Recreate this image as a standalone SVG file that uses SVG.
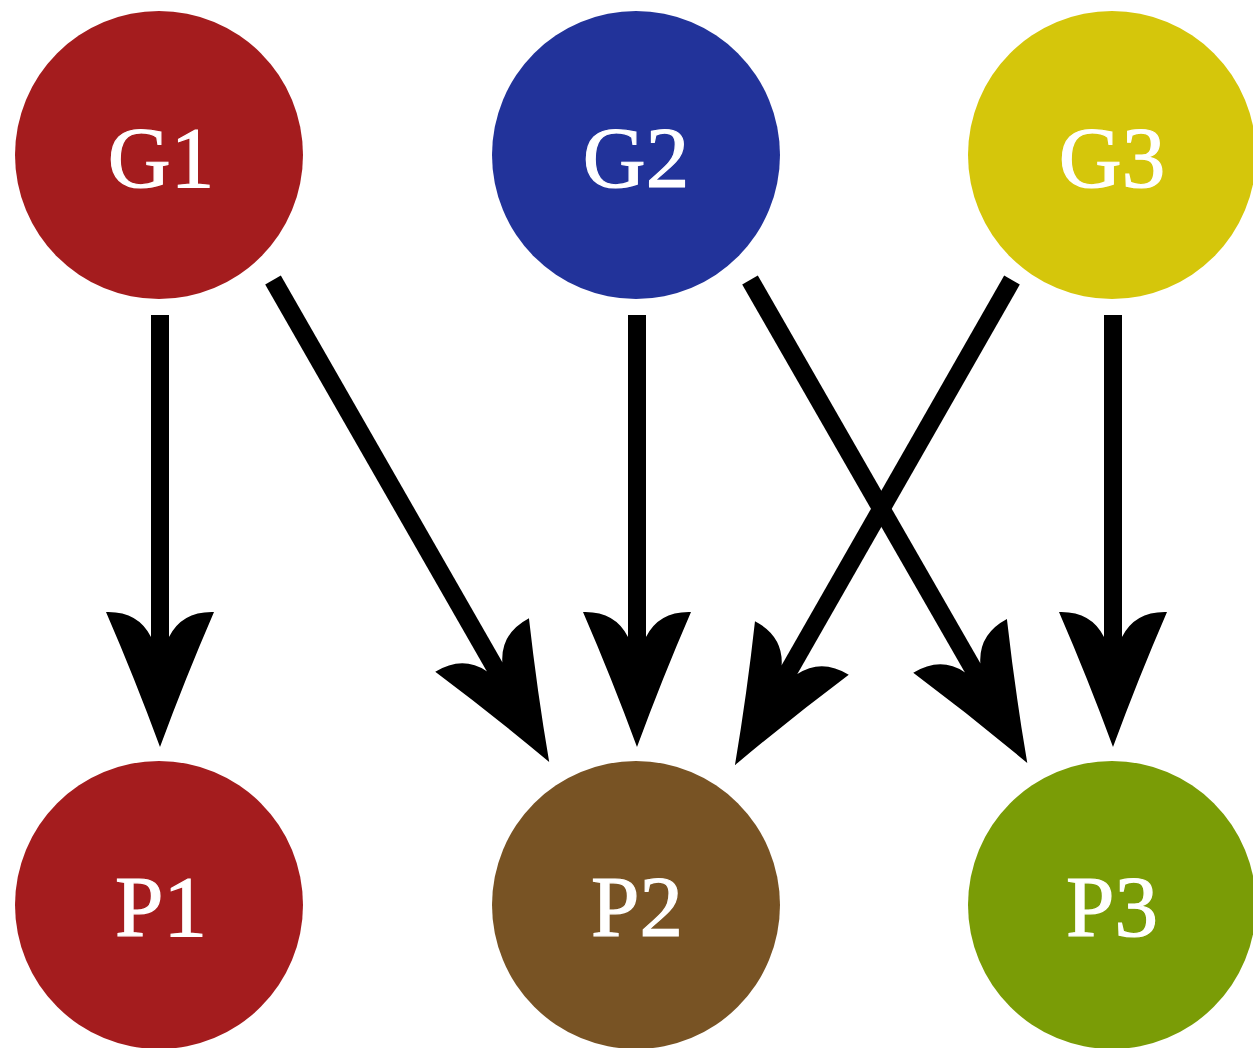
<svg xmlns="http://www.w3.org/2000/svg" width="1253" height="1048" viewBox="0 0 1253 1048">
<style>
.lbl{font-family:"Liberation Serif","Times New Roman",serif;font-size:87px;fill:#ffffff;stroke:#ffffff;stroke-width:1.2;text-anchor:middle}
.edge{stroke:#000;stroke-width:18;fill:none;marker-end:url(#head)}
</style>
<defs>
<marker id="head" markerUnits="userSpaceOnUse" orient="auto" refX="-105" refY="0" markerWidth="10" markerHeight="10" overflow="visible">
<path d="M0,0 Q-68,-25 -135,-54 Q-136,-22 -110,-9 L-110,9 Q-136,22 -135,54 Q-68,25 0,0 Z" fill="#000"/>
</marker>
</defs>
<rect width="1253" height="1048" fill="#ffffff"/>
<g id="G1"><circle cx="159" cy="155" r="144" fill="#A41C1E"/><text class="lbl" x="161" y="187">G1</text></g>
<g id="G2"><circle cx="636" cy="155" r="144" fill="#22339A"/><text class="lbl" x="636" y="187">G2</text></g>
<g id="G3"><circle cx="1112" cy="155" r="144" fill="#D5C60B"/><text class="lbl" x="1112" y="187">G3</text></g>
<g id="P1"><circle cx="159" cy="905" r="144" fill="#A41C1E"/><text class="lbl" x="161" y="936">P1</text></g>
<g id="P2"><circle cx="636" cy="905" r="144" fill="#785324"/><text class="lbl" x="637" y="936">P2</text></g>
<g id="P3"><circle cx="1112" cy="905" r="144" fill="#7A9C06"/><text class="lbl" x="1112" y="936">P3</text></g>
<g id="connectors">
<line class="edge" x1="160" y1="315" x2="160" y2="642"/>
<line class="edge" x1="637" y1="315" x2="637" y2="642"/>
<line class="edge" x1="1113" y1="315" x2="1113" y2="642"/>
<line class="edge" x1="273" y1="280" x2="497" y2="671"/>
<line class="edge" x1="750" y1="280" x2="975" y2="672"/>
<line class="edge" x1="1012" y1="280" x2="787" y2="674"/>
</g>
</svg>
